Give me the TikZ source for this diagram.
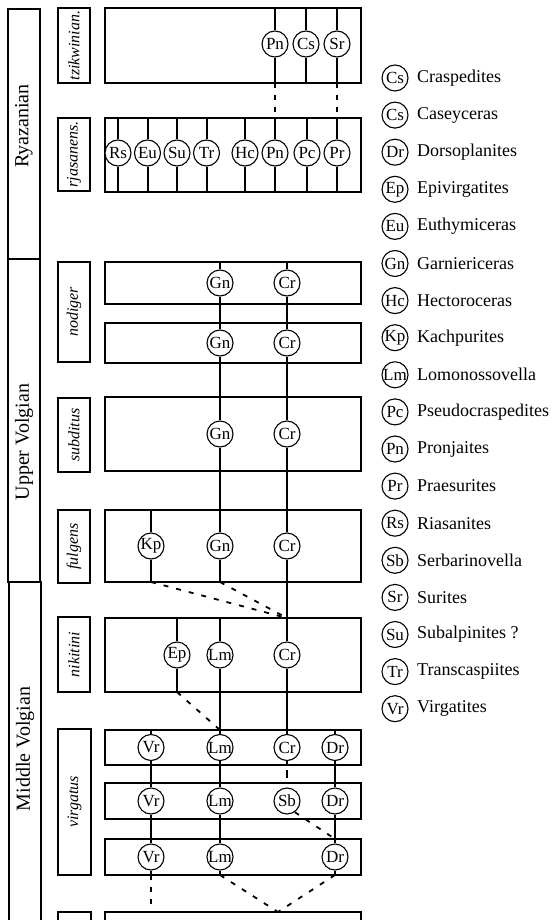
\documentclass[tikz,border=0pt]{standalone}
\usepackage{fontspec}
\setmainfont{Liberation Serif}
\begin{document}
\begin{tikzpicture}[x=1pt,y=-1pt,
  frame/.style={draw,line width=1.3pt,fill=white},
  amm/.style={circle,draw,line width=1.1pt,fill=white,minimum size=26pt,inner sep=0pt,font=\fontsize{17}{17}\selectfont},
  lin/.style={line width=2pt},
  dotl/.style={line width=2pt,dash pattern=on 5pt off 7pt},
  dsh/.style={line width=1.8pt,dash pattern=on 5pt off 8pt},
  stage/.style={font=\fontsize{20}{20}\selectfont,rotate=90},
  zone/.style={font=\itshape\fontsize{16}{16}\selectfont,rotate=90},
  leg/.style={anchor=west,inner sep=0pt,font=\fontsize{18}{18}\selectfont}]
\useasboundingbox[fill=white] (0,0) rectangle (558,920);

% stage column
\draw[frame] (8,9) rectangle (40,259);
\draw[frame] (8,259) rectangle (40,582);
\draw[line width=1.3pt] (9,921) -- (9,582) -- (41,582) -- (41,921);
\node[stage] (s1) at (24,126) {Ryazanian};
\node[stage] (s2) at (24,442) {Upper Volgian};
\node[stage] (s3) at (25,749) {Middle Volgian};

% zone column
\draw[frame] (58,8) rectangle (90,83);
\draw[frame] (58,118) rectangle (90,191);
\draw[frame] (58,262) rectangle (90,362);
\draw[frame] (58,398) rectangle (90,472);
\draw[frame] (58,510) rectangle (90,583);
\draw[frame] (58,617) rectangle (90,692);
\draw[frame] (58,729) rectangle (91,875);
\draw[line width=1.3pt] (58,921) -- (58,912) -- (91,912) -- (91,921);
\node[zone] (z1) at (74,45.5) {tzikwinian.};
\node[zone] (z2) at (74,154.5) {rjasanens.};
\node[zone] (z3) at (74,312) {nodiger};
\node[zone] (z4) at (74,435) {subditus};
\node[zone] (z5) at (74,546.5) {fulgens};
\node[zone] (z6) at (74,654.5) {nikitini};
\node[zone] (z7) at (74.5,802) {virgatus};

% main boxes
\draw[frame] (105,8) rectangle (361,83);
\draw[frame] (105,118) rectangle (361,192);
\draw[frame] (105,262) rectangle (361,304);
\draw[frame] (105,323) rectangle (361,363);
\draw[frame] (105,397) rectangle (361,471);
\draw[frame] (105,510) rectangle (361,582);
\draw[frame] (105,618) rectangle (361,692);
\draw[frame] (105,730) rectangle (361,765);
\draw[frame] (105,783) rectangle (361,819);
\draw[frame] (105,839) rectangle (361,875);
\draw[line width=1.3pt] (105,921) -- (105,912) -- (361,912) -- (361,921);

% box 1 (tzikwinian)
\foreach \n/\t/\x in {a1/Pn/275,a2/Cs/306,a3/Sr/337}{
  \node[amm] (\n) at (\x,44) {\t};
  \coordinate (t\n) at (\x,8); \coordinate (b\n) at (\x,83);
  \draw[lin] (t\n) -- (\n.north); \draw[lin] (\n.south) -- (b\n);
}
% box 2 (rjasanensis)
\foreach \n/\t/\x in {b1/Rs/118,b2/Eu/147.5,b3/Su/177,b4/Tr/206.5,b5/Hc/245,b6/Pn/275,b7/Pc/307,b8/Pr/337}{
  \node[amm] (\n) at (\x,153) {\t};
  \coordinate (t\n) at (\x,118); \coordinate (b\n) at (\x,192);
  \draw[lin] (t\n) -- (\n.north); \draw[lin] (\n.south) -- (b\n);
}
\draw[dotl] (ba1) -- (tb6);
\draw[dotl] (ba3) -- (tb8);

% Upper Volgian nodes
\node[amm] (c1) at (220,283) {Gn};
\node[amm] (c2) at (287,283) {Cr};
\node[amm] (d1) at (220,343) {Gn};
\node[amm] (d2) at (287,343) {Cr};
\node[amm] (e1) at (220,434) {Gn};
\node[amm] (e2) at (287,434) {Cr};
\node[amm] (f0) at (151,546) {Kp};
\node[amm] (f1) at (220,546) {Gn};
\node[amm] (f2) at (287,546) {Cr};
% Middle Volgian nodes
\node[amm] (g0) at (177,655) {Ep};
\node[amm] (g1) at (220,655) {Lm};
\node[amm] (g2) at (287,655) {Cr};
\node[amm] (h0) at (151,747.5) {Vr};
\node[amm] (h1) at (220,747.5) {Lm};
\node[amm] (h2) at (287,747.5) {Cr};
\node[amm] (h3) at (335,747.5) {Dr};
\node[amm] (i0) at (151,801) {Vr};
\node[amm] (i1) at (220,801) {Lm};
\node[amm] (i2) at (287,801) {Sb};
\node[amm] (i3) at (335,801) {Dr};
\node[amm] (j0) at (151,857) {Vr};
\node[amm] (j1) at (220,857) {Lm};
\node[amm] (j3) at (335,857) {Dr};

\coordinate (tc1) at (220,262); \coordinate (tc2) at (287,262);
\coordinate (tf0) at (151,510); \coordinate (bf0) at (151,582);
\coordinate (bf1) at (220,582); \coordinate (tg2) at (287,618);
\coordinate (tg0) at (177,618); \coordinate (bg0) at (177,692);
\coordinate (tg1) at (220,618); \coordinate (th1) at (220,730);
\coordinate (th0) at (151,730); \coordinate (th3) at (335,730);
\coordinate (bh2) at (287,765); \coordinate (tj3) at (335,839);
\coordinate (bj0) at (151,875); \coordinate (bj1) at (220,875);
\coordinate (bj3) at (335,875); \coordinate (tk0) at (151,912);
\coordinate (k) at (278,912);

% Garniericeras
\draw[lin] (tc1) -- (c1.north);
\draw[lin] (c1.south) -- (d1.north);
\draw[lin] (d1.south) -- (e1.north);
\draw[lin] (e1.south) -- (f1.north);
\draw[lin] (f1.south) -- (bf1);
% Craspedites
\draw[lin] (tc2) -- (c2.north);
\draw[lin] (c2.south) -- (d2.north);
\draw[lin] (d2.south) -- (e2.north);
\draw[lin] (e2.south) -- (f2.north);
\draw[lin] (f2.south) -- (g2.north);
\draw[lin] (g2.south) -- (h2.north);
\draw[lin] (h2.south) -- (bh2);
\draw[line width=2pt,dash pattern=on 0pt off 5pt on 8pt off 30pt] (bh2) -- (i2.north);
% Kachpurites
\draw[lin] (tf0) -- (f0.north);
\draw[lin] (f0.south) -- (bf0);
\draw[dsh] (bf0) -- (tg2);
\draw[dsh] (bf1) -- (tg2);
% Epivirgatites
\draw[lin] (tg0) -- (g0.north);
\draw[lin] (g0.south) -- (bg0);
\draw[dsh] (bg0) -- (th1);
% Lomonossovella
\draw[lin] (tg1) -- (g1.north);
\draw[lin] (g1.south) -- (h1.north);
\draw[lin] (h1.south) -- (i1.north);
\draw[lin] (i1.south) -- (j1.north);
\draw[lin] (j1.south) -- (bj1);
\draw[dsh] (bj1) -- (k);
% Virgatites
\draw[lin] (th0) -- (h0.north);
\draw[lin] (h0.south) -- (i0.north);
\draw[lin] (i0.south) -- (j0.north);
\draw[lin] (j0.south) -- (bj0);
\draw[dotl] (bj0) -- (tk0);
% Dorsoplanites
\draw[lin] (th3) -- (h3.north);
\draw[lin] (h3.south) -- (i3.north);
\draw[lin] (i3.south) -- (j3.north);
\draw[lin] (j3.south) -- (bj3);
\draw[dsh] (bj3) -- (k);
% Serbarinovella
\draw[dsh] (i2.-55) -- (tj3);

% legend
\foreach \t/\name [count=\i from 0] in {Cs/Craspedites,Cs/Caseyceras,Dr/Dorsoplanites,Ep/Epivirgatites,Eu/Euthymiceras,Gn/Garniericeras,Hc/Hectoroceras,Kp/Kachpurites,Lm/Lomonossovella,Pc/Pseudocraspedites,Pn/Pronjaites,Pr/Praesurites,Rs/Riasanites,Sb/Serbarinovella,Sr/Surites,Su/Subalpinites ?,Tr/Transcaspiites,Vr/Virgatites}{
  \node[amm] (L\i) at (395,{78+37.1*\i}) {\t};
  \node[leg] (T\i) at (417,{78+37.1*\i}) {\name};
}
\end{tikzpicture}
\end{document}
